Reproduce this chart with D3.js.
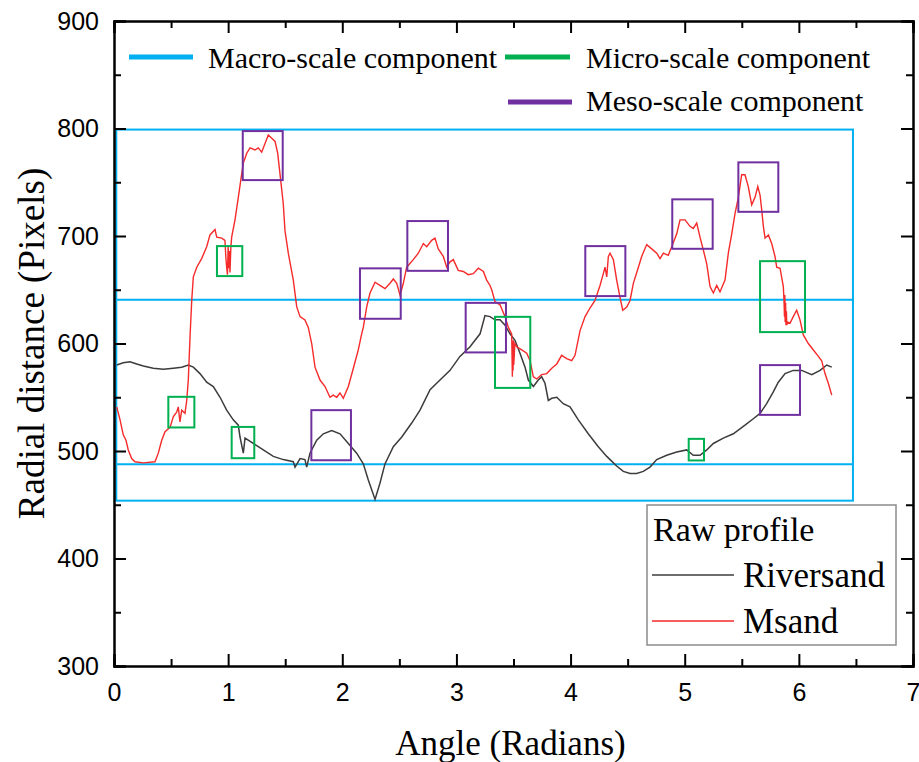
<!DOCTYPE html>
<html>
<head>
<meta charset="utf-8">
<script src="https://cdn.jsdelivr.net/npm/d3@7"></script>
<style>
  body { margin: 0; background: #fff; }
  .tick text { font-family: "Liberation Sans", Arial, sans-serif; font-size: 25px; fill: #000; }
  .serif { font-family: "Liberation Serif", "Times New Roman", serif; fill: #000; }
</style>
</head>
<body>
<div id="chart"></div>
<script>
// Msand raw profile (angle in radians, radial distance in pixels)
const msandAngle = [0.024,0.053,0.081,0.105,0.125,0.155,0.184,0.257,0.359,0.388,0.418,0.447,0.491,0.520,0.549,0.563,0.578,0.593,0.622,0.637,0.651,0.666,0.681,0.695,0.725,0.768,0.812,0.841,0.885,0.900,0.944,0.972,0.980,0.987,0.994,1.000,1.008,1.012,1.016,1.024,1.031,1.060,1.089,1.119,1.133,1.163,1.192,1.235,1.264,1.294,1.323,1.352,1.382,1.411,1.434,1.454,1.483,1.498,1.527,1.571,1.601,1.630,1.673,1.702,1.732,1.761,1.805,1.849,1.892,1.921,1.951,1.980,2.009,2.053,2.097,2.140,2.170,2.184,2.214,2.243,2.287,2.330,2.374,2.418,2.447,2.477,2.506,2.535,2.564,2.622,2.666,2.710,2.740,2.783,2.812,2.841,2.885,2.915,2.944,2.973,3.016,3.060,3.104,3.148,3.192,3.236,3.265,3.294,3.309,3.338,3.382,3.426,3.455,3.484,3.487,3.490,3.493,3.496,3.498,3.502,3.507,3.512,3.528,3.572,3.616,3.645,3.674,3.703,3.747,3.791,3.835,3.879,3.922,3.966,4.010,4.039,4.083,4.127,4.170,4.214,4.258,4.287,4.302,4.317,4.331,4.346,4.375,4.404,4.433,4.457,4.492,4.521,4.550,4.594,4.623,4.667,4.711,4.755,4.784,4.813,4.856,4.886,4.930,4.959,5.003,5.046,5.075,5.105,5.134,5.163,5.193,5.222,5.251,5.280,5.309,5.353,5.382,5.412,5.441,5.470,5.499,5.528,5.557,5.587,5.616,5.640,5.660,5.675,5.689,5.704,5.733,5.762,5.791,5.806,5.835,5.864,5.870,5.874,5.877,5.880,5.884,5.887,5.891,5.894,5.900,5.923,5.951,5.981,6.010,6.039,6.083,6.127,6.171,6.200,6.229,6.258,6.288];
const msandRadius = [541,529,515,510,501,493,490,489,490,498,510,518,522,532,536,541,527,538,535,547,566,606,640,662,671,679,690,701,706,699,698,696,680,671,664,690,670,686,666,690,699,715,736,758,768,777,782,780,782,778,786,794,791,788,777,758,730,705,684,659,634,625,622,615,600,578,566,560,550,552,550,554,549,560,577,594,609,615,634,647,657,654,651,656,660,656,645,656,671,678,684,693,690,696,698,688,681,671,676,678,668,667,664,665,670,667,659,654,650,639,636,625,615,609,590,569,600,575,603,580,590,600,597,594,591,584,569,567,571,572,577,581,589,586,584,589,612,625,633,640,654,665,671,662,681,684,678,659,643,631,634,640,656,671,681,692,688,684,679,684,682,690,702,715,715,709,707,712,699,687,674,653,647,654,648,659,684,702,721,736,757,757,746,729,736,746,738,724,709,698,701,693,681,671,670,653,640,625,645,620,638,617,630,617,620,619,625,631,622,608,600,594,588,584,572,563,552];

// Riversand raw profile
const riverAngle = [0.024,0.081,0.140,0.199,0.257,0.344,0.432,0.520,0.593,0.651,0.695,0.753,0.812,0.870,0.929,0.987,1.045,1.089,1.104,1.133,1.148,1.220,1.308,1.396,1.483,1.571,1.586,1.630,1.673,1.688,1.717,1.776,1.834,1.907,1.980,2.053,2.126,2.184,2.228,2.287,2.330,2.374,2.447,2.521,2.608,2.681,2.769,2.856,2.944,3.031,3.119,3.207,3.250,3.294,3.338,3.382,3.426,3.469,3.513,3.557,3.601,3.630,3.674,3.717,3.747,3.776,3.805,3.835,3.879,3.936,3.995,4.068,4.155,4.243,4.317,4.346,4.404,4.462,4.521,4.579,4.637,4.696,4.755,4.842,4.930,5.017,5.075,5.134,5.193,5.251,5.338,5.426,5.528,5.601,5.660,5.718,5.776,5.820,5.879,5.951,6.025,6.113,6.186,6.244,6.288];
const riverRadius = [580,582,583,581,579,577,576,577,578,580,578,572,564,560,550,538,529,524,513,498,512,507,501,495,492,490,485,493,492,485,498,510,516,519,516,507,498,488,473,455,470,488,504,513,526,538,557,566,575,588,597,609,626,625,622,622,617,609,603,591,578,566,560,566,569,563,547,549,550,544,541,529,516,504,495,492,486,481,479,479,481,485,492,496,499,501,496,496,501,507,512,516,524,530,535,544,555,564,572,575,575,571,575,580,578];

// macro-scale component: outer box and two inner levels
const macroBox = [0.02, 6.474, 453.8, 799];
const macroLevels = [640.8, 487.7];
// meso-scale boxes [x0, x1, y0, y1]
const mesoBoxes = [[1.128,1.478,752,797.6],[2.155,2.512,623,669.9],[2.570,2.926,667.6,713.9],[3.081,3.434,591.7,637.8],[1.729,2.076,491.4,538],[4.129,4.480,644.1,690.6],[4.891,5.245,688.1,734.1],[5.470,5.820,722.5,768.5],[5.660,6.010,533.6,579.9]];
// micro-scale boxes
const microBoxes = [[0.902,1.124,662.7,690.6],[0.476,0.704,521.9,550.4],[1.031,1.229,493.3,522.4],[3.338,3.647,558.7,624.8],[5.660,6.054,610.6,676.6],[5.035,5.169,491.2,511.3]];

const xMajor = [0,1,2,3,4,5,6,7];
const xMinor = [0.5,1.5,2.5,3.5,4.5,5.5,6.5];
const yMajor = [300,400,500,600,700,800,900];
const yMinor = [350,450,550,650,750,850];

const colMacro = "#00b0f0", colMicro = "#00b050", colMeso = "#7030a0";
const colRiver = "#3c3c3c", colMsand = "#f52a2a";

const width = 919, height = 762;
const margin = {top: 21, left: 114, right: 6, bottom: 96};
const iw = width - margin.left - margin.right;
const ih = height - margin.top - margin.bottom;

const svg = d3.select("#chart").append("svg").attr("width", width).attr("height", height);
const g = svg.append("g").attr("transform", `translate(${margin.left},${margin.top})`);

const x = d3.scaleLinear().domain([0, 7]).range([0, iw]);
const y = d3.scaleLinear().domain([300, 900]).range([ih, 0]);

// macro box
g.append("rect")
  .attr("x", x(macroBox[0])).attr("y", y(macroBox[3]))
  .attr("width", x(macroBox[1]) - x(macroBox[0]))
  .attr("height", y(macroBox[2]) - y(macroBox[3]))
  .attr("fill", "none").attr("stroke", colMacro).attr("stroke-width", 2);
g.selectAll("line.macro").data(macroLevels).enter().append("line")
  .attr("x1", x(macroBox[0])).attr("x2", x(macroBox[1]))
  .attr("y1", d => y(d)).attr("y2", d => y(d))
  .attr("stroke", colMacro).attr("stroke-width", 2);

const line = d3.line().x(d => x(d[0])).y(d => y(d[1]));
const river = riverAngle.map((a, i) => [a, riverRadius[i]]);
const msand = msandAngle.map((a, i) => [a, msandRadius[i]]);

g.append("path").datum(river).attr("d", line)
  .attr("fill", "none").attr("stroke", colRiver).attr("stroke-width", 1.5);
g.append("path").datum(msand).attr("d", line)
  .attr("fill", "none").attr("stroke", colMsand).attr("stroke-width", 1.4);

function boxes(data, col) {
  g.selectAll(null).data(data).enter().append("rect")
    .attr("x", d => x(d[0])).attr("y", d => y(d[3]))
    .attr("width", d => x(d[1]) - x(d[0]))
    .attr("height", d => y(d[2]) - y(d[3]))
    .attr("fill", "none").attr("stroke", col).attr("stroke-width", 2);
}
boxes(mesoBoxes, colMeso);
boxes(microBoxes, colMicro);

// axes, ticks pointing inward
function styleAxis(sel) {
  sel.selectAll("path.domain").attr("stroke", "#000").attr("stroke-width", 2);
  sel.selectAll(".tick line").attr("stroke", "#000").attr("stroke-width", 2);
}
g.append("g").attr("transform", `translate(0,${ih})`)
  .call(d3.axisBottom(x).tickValues(xMajor).tickSize(-12).tickPadding(17).tickFormat(d3.format("d")))
  .call(styleAxis);
g.append("g").attr("transform", `translate(0,${ih})`)
  .call(d3.axisBottom(x).tickValues(xMinor).tickSize(-7).tickFormat(""))
  .call(styleAxis);
g.append("g")
  .call(d3.axisTop(x).tickValues(xMajor).tickSize(-12).tickFormat(""))
  .call(styleAxis);
g.append("g")
  .call(d3.axisTop(x).tickValues(xMinor).tickSize(-7).tickFormat(""))
  .call(styleAxis);
g.append("g")
  .call(d3.axisLeft(y).tickValues(yMajor).tickSize(-12).tickPadding(15).tickFormat(d3.format("d")))
  .call(styleAxis);
g.append("g")
  .call(d3.axisLeft(y).tickValues(yMinor).tickSize(-7).tickFormat(""))
  .call(styleAxis);
g.append("g").attr("transform", `translate(${iw},0)`)
  .call(d3.axisRight(y).tickValues(yMajor).tickSize(-12).tickFormat(""))
  .call(styleAxis);
g.append("g").attr("transform", `translate(${iw},0)`)
  .call(d3.axisRight(y).tickValues(yMinor).tickSize(-7).tickFormat(""))
  .call(styleAxis);

// axis titles
svg.append("text").attr("class", "serif")
  .attr("x", margin.left + iw / 2 - 3).attr("y", 755)
  .attr("text-anchor", "middle").style("font-size", "35px")
  .text("Angle (Radians)");
svg.append("text").attr("class", "serif")
  .attr("transform", `translate(44,${margin.top + ih / 2}) rotate(-90)`)
  .attr("text-anchor", "middle").style("font-size", "37px")
  .text("Radial distance (Pixels)");

// top legend
const topLegend = [
  {label: "Macro-scale component", col: colMacro, x0: 129, x1: 193, ly: 57, tx: 208, ty: 68},
  {label: "Micro-scale component", col: colMicro, x0: 505, x1: 570, ly: 57, tx: 586, ty: 68},
  {label: "Meso-scale component", col: colMeso, x0: 508, x1: 572, ly: 102, tx: 586, ty: 111}
];
const tl = svg.append("g");
tl.selectAll("line").data(topLegend).enter().append("line")
  .attr("x1", d => d.x0).attr("x2", d => d.x1)
  .attr("y1", d => d.ly).attr("y2", d => d.ly)
  .attr("stroke", d => d.col).attr("stroke-width", 5);
tl.selectAll("text").data(topLegend).enter().append("text")
  .attr("class", "serif").attr("x", d => d.tx).attr("y", d => d.ty)
  .style("font-size", "30px").text(d => d.label);

// raw profile legend
const lg = svg.append("g");
lg.append("rect").attr("x", 647).attr("y", 505).attr("width", 249).attr("height", 140)
  .attr("fill", "#fff").attr("stroke", "#8c8c8c").attr("stroke-width", 1.5);
lg.append("text").attr("class", "serif").attr("x", 653).attr("y", 541)
  .style("font-size", "34px").text("Raw profile");
const rawItems = [{label: "Riversand", col: colRiver, ly: 575, ty: 587}, {label: "Msand", col: colMsand, ly: 621, ty: 633}];
lg.selectAll("line").data(rawItems).enter().append("line")
  .attr("x1", 652).attr("x2", 734).attr("y1", d => d.ly).attr("y2", d => d.ly)
  .attr("stroke", d => d.col).attr("stroke-width", 1.4);
lg.selectAll("text.item").data(rawItems).enter().append("text")
  .attr("class", "serif item").attr("x", 743).attr("y", d => d.ty)
  .style("font-size", "35px").text(d => d.label);
</script>
</body>
</html>
